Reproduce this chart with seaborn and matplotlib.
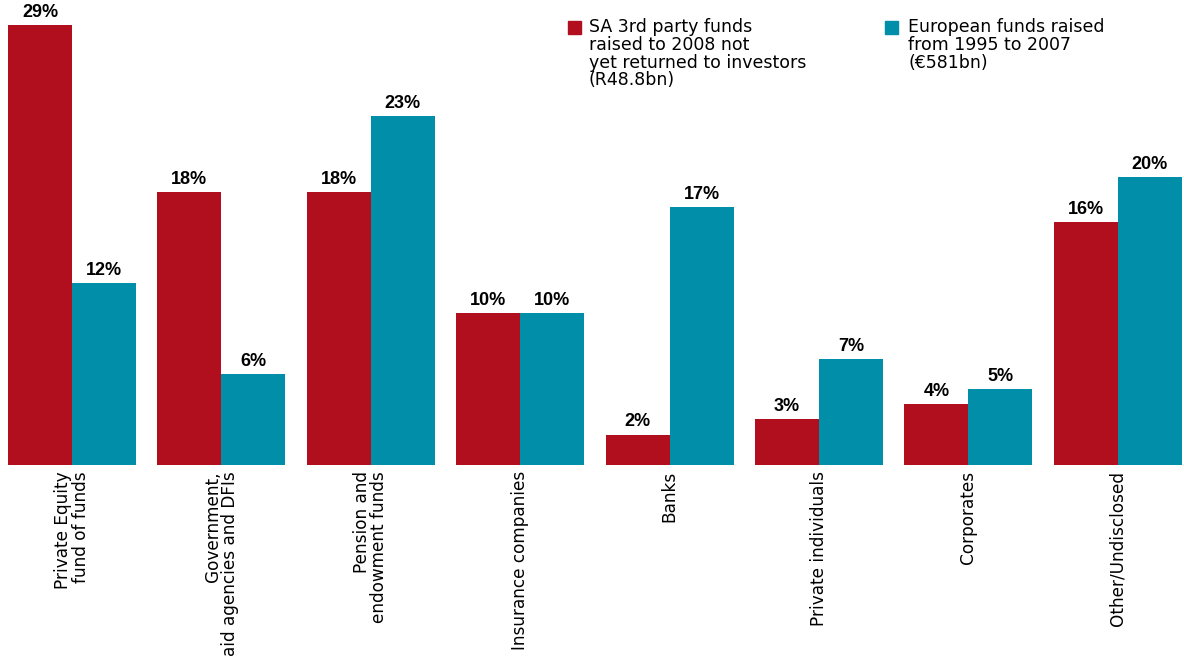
import matplotlib
matplotlib.use("Agg")
import matplotlib.pyplot as plt
import pandas as pd
import seaborn as sns
from matplotlib import font_manager
from matplotlib.patches import Rectangle

categories = [
    "Private Equity\nfund of funds",
    "Government,\naid agencies and DFIs",
    "Pension and\nendowment funds",
    "Insurance companies",
    "Banks",
    "Private individuals",
    "Corporates",
    "Other/Undisclosed",
]
sa_values = [29, 18, 18, 10, 2, 3, 4, 16]
eu_values = [12, 6, 23, 10, 17, 7, 5, 19]
sa_labels = ["29%", "18%", "18%", "10%", "2%", "3%", "4%", "16%"]
eu_labels = ["12%", "6%", "23%", "10%", "17%", "7%", "5%", "20%"]
series = [
    "SA 3rd party funds\nraised to 2008 not\nyet returned to investors\n(R48.8bn)",
    "European funds raised\nfrom 1995 to 2007\n(€581bn)",
]

RED = "#B20F1E"
TEAL = "#008EA8"

names = {f.name for f in font_manager.fontManager.ttflist}
if "Liberation Sans Narrow" in names:
    value_font, value_size = "Liberation Sans Narrow", 14
else:
    value_font, value_size = "Liberation Sans", 13

df = pd.DataFrame({
    "category": categories * 2,
    "value": sa_values + eu_values,
    "series": [series[0]] * len(categories) + [series[1]] * len(categories),
})

sns.set_theme(style="white")
plt.rcParams["font.family"] = ["DejaVu Sans"]
plt.rcParams["text.color"] = "black"
plt.rcParams["xtick.color"] = "black"

fig = plt.figure(figsize=(11.84, 6.63), dpi=100)
ax = fig.add_axes([0, 198 / 663, 1, 465 / 663])

sns.barplot(
    data=df, x="category", y="value", hue="series",
    palette=[RED, TEAL], width=0.857, gap=0, saturation=1,
    linewidth=0, legend=False, ax=ax,
)

for container, labels in zip(ax.containers, [sa_labels, eu_labels]):
    ax.bar_label(container, labels=labels, padding=3, color="black",
                 fontsize=value_size, fontweight="bold", family=value_font)

ax.set_xlim(-0.482, 7.443)
ax.set_ylim(0, 30.65)
ax.set_xlabel("")
ax.set_ylabel("")
ax.set_yticks([])
ax.set_xticks(range(len(categories)))
ax.set_xticklabels(categories, rotation=90, ha="center", va="top",
                   multialignment="right", fontsize=12.2,
                   linespacing=0.95, color="black")
ax.tick_params(axis="x", length=0, pad=4.5)
sns.despine(ax=ax, left=True, bottom=True)

# legend drawn by hand at the top right
for x_sq, x_txt, color, text in [(568, 589, RED, series[0]), (885, 908, TEAL, series[1])]:
    fig.add_artist(Rectangle((x_sq / 1184, 1 - 34 / 663), 13 / 1184, 13 / 663,
                             transform=fig.transFigure, color=color))
    fig.text(x_txt / 1184, 1 - 18.5 / 663, text, ha="left", va="top", color="black",
             fontsize=12.5, linespacing=0.97)

fig.savefig("out.png", dpi=100)
